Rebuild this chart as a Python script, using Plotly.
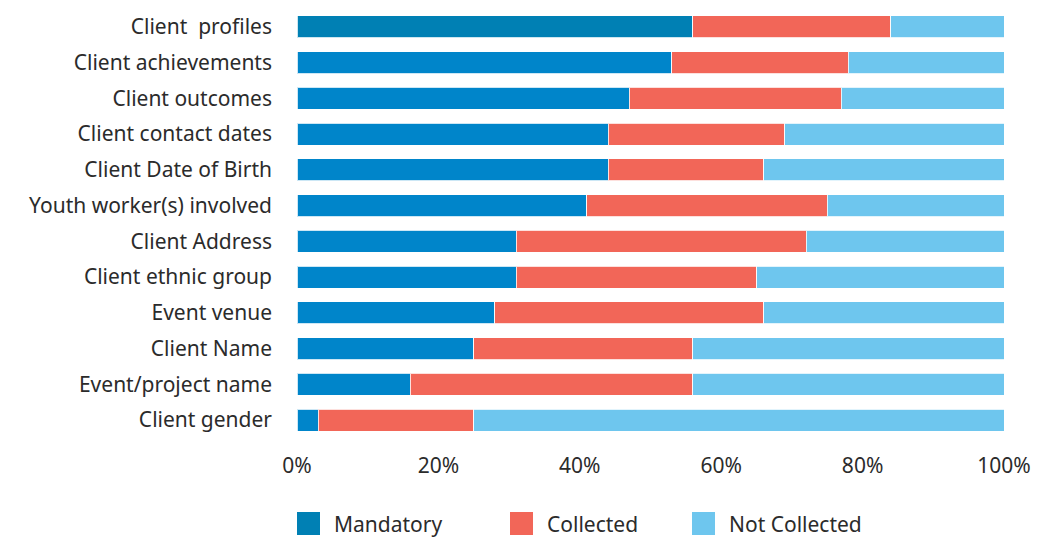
import plotly.graph_objects as go

categories = ["Client  profiles", "Client achievements", "Client outcomes", "Client contact dates",
              "Client Date of Birth", "Youth worker(s) involved", "Client Address", "Client ethnic group",
              "Event venue", "Client Name", "Event/project name", "Client gender"]
mandatory = [56, 53, 47, 44, 44, 41, 31, 31, 28, 25, 16, 3]
collected = [28, 25, 30, 25, 22, 34, 41, 34, 38, 31, 40, 22]
not_collected = [16, 22, 23, 31, 34, 25, 28, 35, 34, 44, 44, 75]
series_names = ["Mandatory", "Collected", "Not Collected"]
colors = ["#0080B4", "#F26658", "#6EC6EE"]
mandatory_colors = ["#0080B4"] + ["#0085CA"] * (len(categories) - 1)
x_ticks = [0, 20, 40, 60, 80, 100]

W, H = 1037, 538
L, R, T, B = 297, 33, 9, 100
PW, PH = W - L - R, H - T - B

FONT = "Noto Sans"
FS = 21
TXT = "#2b2b2b"

fig = go.Figure()
for name, vals, col in zip(series_names, [mandatory, collected, not_collected],
                           [mandatory_colors, colors[1], colors[2]]):
    fig.add_trace(go.Bar(
        y=categories, x=vals, name=name, orientation="h",
        marker=dict(color=col, line=dict(color="rgba(255,255,255,0.8)", width=1)),
        showlegend=False, hoverinfo="x+y+name"))

def px(x):
    return (x - L) / PW

def py(y):
    return (H - B - y) / PH

# manual legend
legend_x = [297, 510, 692]
shapes = []
annotations = []
for name, col, lx in zip(series_names, colors, legend_x):
    shapes.append(dict(type="rect", xref="paper", yref="paper",
                       x0=px(lx), x1=px(lx + 23), y0=py(535), y1=py(512),
                       fillcolor=col, line=dict(width=0)))
    annotations.append(dict(xref="paper", yref="paper", x=px(lx + 35), y=py(523.5),
                            text=name, showarrow=False, xanchor="left", yanchor="middle",
                            font=dict(family=FONT, size=FS, color=TXT)))

fig.update_layout(
    width=W, height=H,
    margin=dict(l=L, r=R, t=T, b=B, pad=0, autoexpand=False),
    barmode="stack", bargap=0.38,
    plot_bgcolor="white", paper_bgcolor="white",
    font=dict(family=FONT, size=FS, color=TXT),
    xaxis=dict(range=[0, 100], tickvals=x_ticks, ticktext=[f"{v}%" for v in x_ticks],
               showgrid=False, zeroline=False, showline=False, ticks="",
               ticklabelstandoff=13, fixedrange=True, automargin=False),
    yaxis=dict(autorange="reversed", showgrid=False, zeroline=False, showline=False,
               ticks="", ticklabelstandoff=24, fixedrange=True, automargin=False),
    shapes=shapes, annotations=annotations,
)

fig.write_html("out.html")
